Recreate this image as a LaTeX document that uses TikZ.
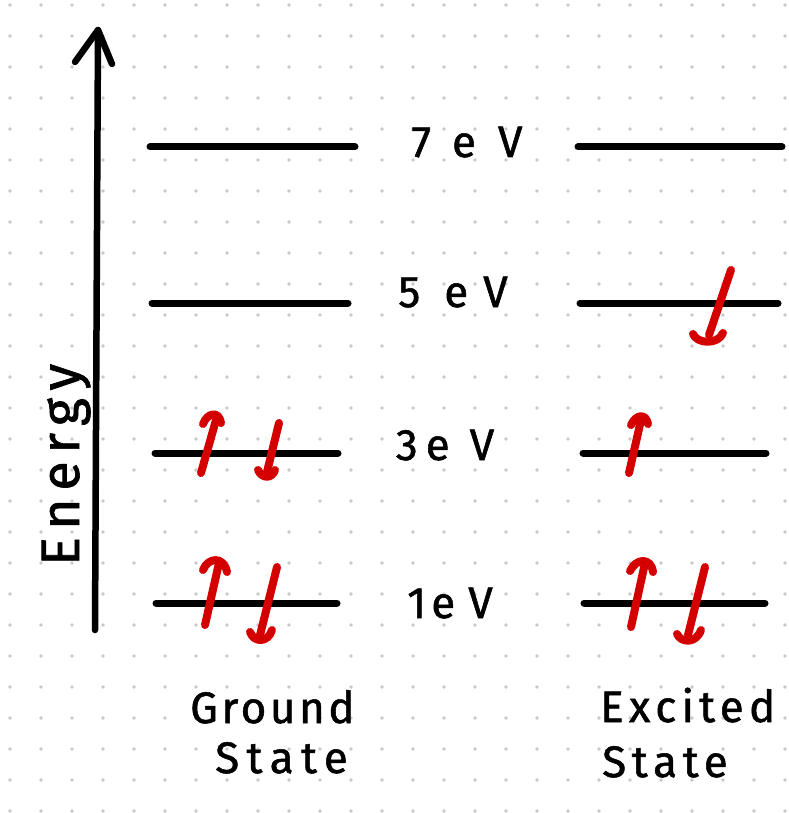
\documentclass[tikz,border=0pt]{standalone}
\usepackage{fontspec}
\setmainfont{Fira Sans}
\newfontfamily\hand{Fira Sans}[FakeBold=1.2]
\definecolor{spinred}{HTML}{D40000}
\definecolor{dotgray}{HTML}{C8C8C8}
\tikzset{
  level/.style={line width=7pt, line cap=round, black},
  spin/.style={line width=8pt, line cap=round, line join=round, spinred},
  lbl/.style={inner sep=0pt, anchor=base, font=\hand\fontsize{44}{48}\selectfont},
  captext/.style={inner sep=0pt, anchor=base west, font=\hand\fontsize{44}{48}\selectfont}
}
\begin{document}
\begin{tikzpicture}[x=1pt,y=-1pt]
\useasboundingbox (0,0) rectangle (788,813);
\fill[white] (0,0) rectangle (788,813);
% dot grid
\foreach \i in {0,...,25}{
  \foreach \j in {0,...,26}{
    \fill[dotgray] (10+31*\i,5+31*\j) circle (1.8);
  }
}
% energy axis
\coordinate (axb) at (95,630);
\coordinate (axt) at (98,30);
\coordinate (axl) at (75,62);
\coordinate (axr) at (112,64);
\draw[line width=6.5pt, line cap=round] (axb) -- (axt);
\draw[line width=6.5pt, line cap=round, line join=round] (axl) -- (axt) -- (axr);
\node[inner sep=0pt, anchor=base west, rotate=90, font=\hand\fontsize{54}{58}\selectfont\addfontfeature{LetterSpace=14}] (energy) at (79,566) {Energy};
% levels left
\draw[level] (150,147) -- (355,147);
\draw[level] (152,303) -- (348,303);
\draw[level] (155,453) -- (338,453);
\draw[level] (156,603) -- (337,603);
% levels right
\draw[level] (578,147) -- (782,147);
\draw[level] (580,303) -- (778,303);
\draw[level] (583,453) -- (766,453);
\draw[level] (584,603) -- (765,603);
% labels
\node[lbl] (e7) at (467,157) {7\hspace{21pt}e\hspace{22pt}V};
\node[lbl] (e5) at (453,307) {5\hspace{24pt}e\hspace{15pt}V};
\node[lbl] (e3) at (445,460) {3\hspace{8pt}e\hspace{20pt}V};
\node[lbl] (e1) at (450,618) {1\hspace{5pt}e\hspace{13pt}V};
% spins ground
\draw[spin] (201,473) -- (216,420);
\draw[spin] (203,424) .. controls (207,413) and (219,410) .. (221,423);
\draw[spin] (279,423) -- (267,472);
\draw[spin] (258,470) .. controls (262,479) and (272,479) .. (275,470);
\draw[spin] (205,625) -- (219,563);
\draw[spin] (203,570) .. controls (208,557) and (224,556) .. (227,572);
\draw[spin] (277,567) -- (260,635);
\draw[spin] (250,632) .. controls (254,643) and (268,643) .. (272,630);
% spins excited
\draw[spin] (731,270) -- (709,335);
\draw[spin] (693,334) .. controls (697,344) and (718,345) .. (723,333);
\draw[spin] (629,473) -- (641,420);
\draw[spin] (631,425) .. controls (636,414) and (646,413) .. (648,424);
\draw[spin] (631,627) -- (645,563);
\draw[spin] (630,571) .. controls (636,558) and (651,557) .. (653,572);
\draw[spin] (705,567) -- (688,635);
\draw[spin] (677,634) .. controls (681,643) and (696,644) .. (701,630);
% captions
\node[captext, font=\hand\fontsize{44}{48}\selectfont\addfontfeature{LetterSpace=8}] (g1) at (190,723) {Ground};
\node[captext, font=\hand\fontsize{44}{48}\selectfont\addfontfeature{LetterSpace=17}] (g2) at (215,773) {State};
\node[captext, font=\hand\fontsize{44}{48}\selectfont\addfontfeature{LetterSpace=12}] (x1) at (600,722) {Excited};
\node[captext, font=\hand\fontsize{44}{48}\selectfont\addfontfeature{LetterSpace=13}] (x2) at (602,777) {State};
\end{tikzpicture}
\end{document}
